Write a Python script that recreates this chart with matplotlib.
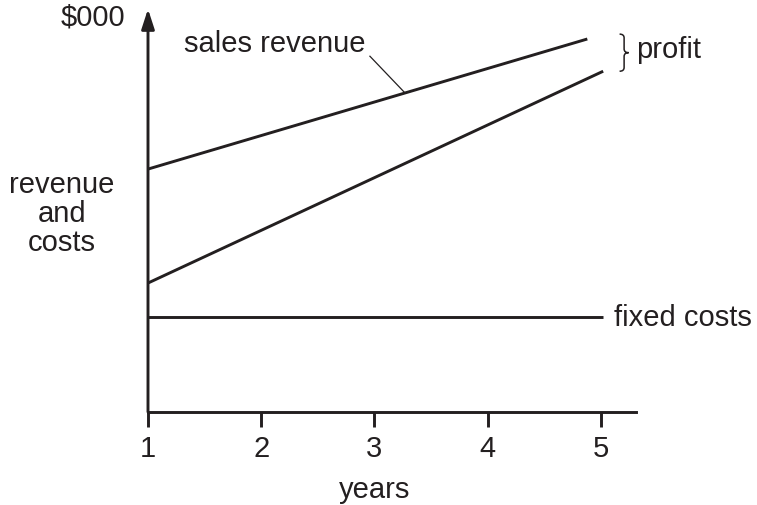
import numpy as np
import matplotlib.pyplot as plt
from matplotlib.path import Path
from matplotlib.patches import PathPatch

#%% Chart appearance
plt.rcParams['font.family'] = ['Liberation Sans', 'DejaVu Sans']
plt.rcParams['font.size'] = 21
ink = '#231f20'

#%% Data ($000)
years = [1, 2, 3, 4, 5]
revenue_x = [1, 4.88]
revenue_y = [6.48, 9.95]
total_cost_x = [1, 5.02]
total_cost_y = [3.44, 9.09]
fixed_x = [1, 5.02]
fixed_y = [2.53, 2.53]

#%% Figure
fig = plt.figure(figsize=(7.57, 5.06), dpi=100)
ax = fig.add_axes([148 / 757, 1 - 413 / 506, 488 / 757, 403 / 506])
ax.set_xlim(1, 5.31)
ax.set_ylim(0, 10.75)

lw = 2.1
ax.plot(revenue_x, revenue_y, color=ink, lw=lw, solid_capstyle='butt')
ax.plot(total_cost_x, total_cost_y, color=ink, lw=lw, solid_capstyle='butt')
ax.plot(fixed_x, fixed_y, color=ink, lw=lw, solid_capstyle='butt')

# axes: bottom spine + arrow for the y axis
for s in ['top', 'right', 'left']:
    ax.spines[s].set_visible(False)
ax.spines['bottom'].set_linewidth(lw)
ax.spines['bottom'].set_color(ink)
ax.annotate('', xy=(1, 10.75), xytext=(1, 0), annotation_clip=False,
            arrowprops=dict(arrowstyle='-|>,head_length=0.4,head_width=0.13',
                            mutation_scale=30, color=ink, lw=lw,
                            shrinkA=0, shrinkB=0))

ax.set_xticks(years)
ax.set_yticks([])
ax.tick_params(axis='x', direction='out', length=10.8, width=lw, color=ink,
               labelcolor=ink, pad=5, labelsize=21)

#%% Labels
ax.text(0.514, 10.56, '$000', ha='center', va='center', color=ink, clip_on=False)
ax.text(0.24, 5.31, 'revenue\nand\ncosts', ha='center', va='center',
        multialignment='center', linespacing=1.05, color=ink, clip_on=False)
ax.text(3.0, -2.05, 'years', ha='center', va='center', color=ink, clip_on=False)
ax.text(5.12, fixed_y[-1], 'fixed costs', ha='left', va='center', color=ink, clip_on=False)

# sales revenue label with leader line to the line
ax.text(1.32, 9.83, 'sales revenue', ha='left', va='center', color=ink)
lx = 3.27
ly = np.interp(lx, revenue_x, revenue_y)
ax.plot([2.96, lx], [9.49, ly], color=ink, lw=0.9)

# profit brace spanning the gap between the line ends
top = revenue_y[-1] + 0.13
bot = total_cost_y[-1]
mid = (top + bot) / 2
x0, w = 5.165, 0.08
hx = x0 + w / 2
verts = [(x0, top), (hx, top), (hx, top - 0.1), (hx, mid + 0.1), (hx, mid), (x0 + w, mid),
         (hx, mid), (hx, mid - 0.1), (hx, bot + 0.1), (hx, bot), (x0, bot)]
codes = [Path.MOVETO, Path.CURVE3, Path.CURVE3, Path.LINETO, Path.CURVE3, Path.CURVE3,
         Path.CURVE3, Path.CURVE3, Path.LINETO, Path.CURVE3, Path.CURVE3]
ax.add_patch(PathPatch(Path(verts, codes), fill=False, edgecolor=ink, lw=1.1, clip_on=False))
ax.text(5.31, mid + 0.1, 'profit', ha='left', va='center', color=ink, clip_on=False)

fig.savefig('out.png', dpi=100)
